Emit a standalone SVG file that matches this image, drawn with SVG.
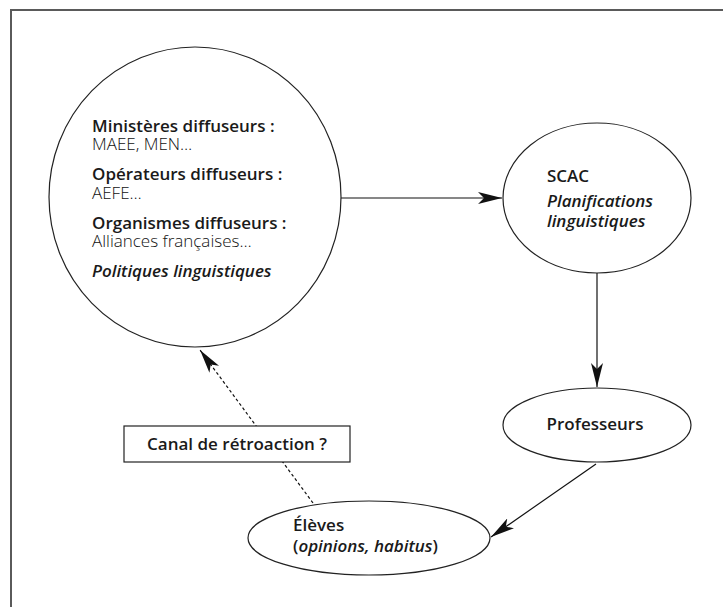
<svg xmlns="http://www.w3.org/2000/svg" width="723" height="607" viewBox="0 0 723 607">
<defs>
<marker id="arr" markerUnits="userSpaceOnUse" viewBox="0 0 24 12" refX="24" refY="6" markerWidth="24" markerHeight="12" orient="auto">
<path d="M0,0 L24,6 L0,12 L6,6 z" fill="#111"/>
</marker>
<style>
.node{fill:#fff;stroke:#222;stroke-width:1.2}
.t{font-family:"Open Sans",Lato,"Liberation Sans",sans-serif;font-size:17px;fill:#1a1a1a}
.b{font-weight:600}
.i{font-style:italic;font-weight:600}
.r{font-weight:300;fill:#111}
.edge{fill:none;stroke:#111;stroke-width:1.2}
</style>
</defs>
<rect width="723" height="607" fill="#fff"/>
<path d="M11,607 L11,10 L723,10" fill="none" stroke="#5a5a5a" stroke-width="2"/>
<g id="connectors">
<line class="edge" x1="341" y1="198" x2="502" y2="198" marker-end="url(#arr)"/>
<line class="edge" x1="597" y1="273" x2="597" y2="387" marker-end="url(#arr)"/>
<line class="edge" x1="596" y1="464" x2="491" y2="537" marker-end="url(#arr)"/>
<line class="edge" x1="313" y1="503" x2="200" y2="350" stroke-dasharray="3,2.5" stroke-width="1" marker-end="url(#arr)"/>
</g>
<g id="ministeres">
<ellipse class="node" cx="195" cy="197" rx="146" ry="150"/>
<text class="t b" x="92" y="132">Ministères diffuseurs :</text>
<text class="t r" x="92" y="150">MAEE, MEN…</text>
<text class="t b" x="92" y="180">Opérateurs diffuseurs :</text>
<text class="t r" x="92" y="199">AEFE…</text>
<text class="t b" x="92" y="229">Organismes diffuseurs :</text>
<text class="t r" x="92" y="247">Alliances françaises…</text>
<text class="t i" x="92" y="277">Politiques linguistiques</text>
</g>
<g id="scac">
<ellipse class="node" cx="597" cy="198" rx="94" ry="75"/>
<text class="t b" x="547" y="182">SCAC</text>
<text class="t i" x="547" y="207">Planifications</text>
<text class="t i" x="547" y="227">linguistiques</text>
</g>
<g id="professeurs">
<ellipse class="node" cx="597" cy="425" rx="94" ry="37"/>
<text class="t b" x="595" y="430" text-anchor="middle">Professeurs</text>
</g>
<g id="eleves">
<ellipse class="node" cx="369" cy="538" rx="121" ry="37"/>
<text class="t b" x="293" y="531">Élèves</text>
<text class="t b" x="293" y="552">(<tspan font-style="italic">opinions, habitus</tspan>)</text>
</g>
<g id="canal">
<rect class="node" x="124" y="426" width="226" height="36"/>
<text class="t b" x="237" y="450" text-anchor="middle">Canal de rétroaction ?</text>
</g>
</svg>
